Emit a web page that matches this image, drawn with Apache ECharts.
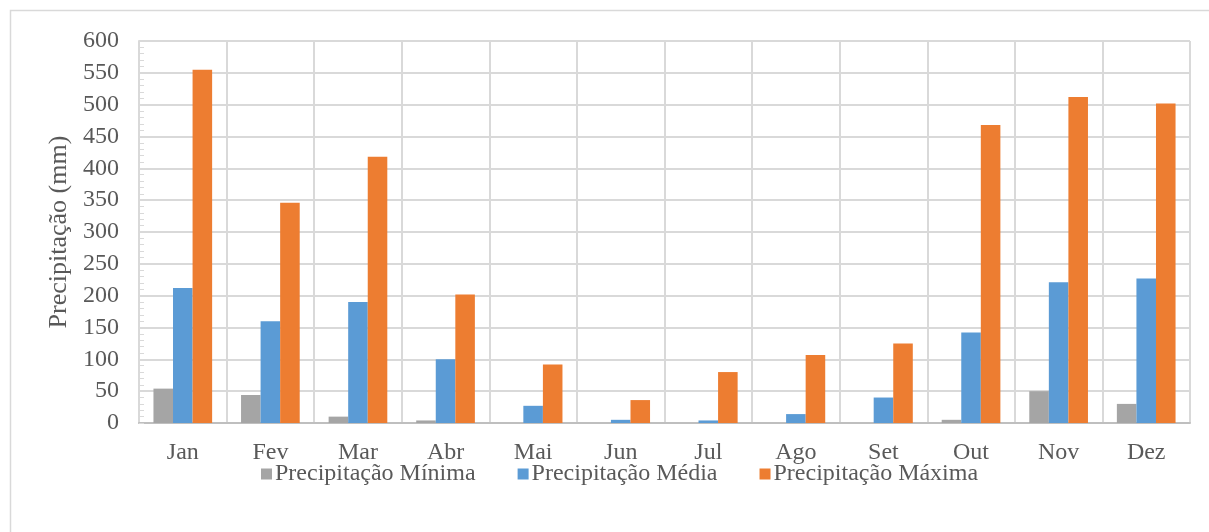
<!DOCTYPE html>
<html>
<head>
<meta charset="utf-8">
<script src="https://cdn.jsdelivr.net/npm/echarts@6/dist/echarts.min.js"></script>
<style>html,body{margin:0;padding:0;background:#fff;}#c{width:1209px;height:532px;}</style>
</head>
<body>
<div id="c"></div>
<script>
const categories = ['Jan','Fev','Mar','Abr','Mai','Jun','Jul','Ago','Set','Out','Nov','Dez'];
const precMinima = [54, 44, 10, 4, 0, 0, 0, 0, 0, 5, 50, 30];
const precMedia = [212, 160, 190, 100, 27, 5, 4, 14, 40, 142, 221, 227];
const precMaxima = [555, 346, 418, 202, 92, 36, 80, 107, 125, 468, 512, 502];
const seriesNames = ['Precipitação Mínima', 'Precipitação Média', 'Precipitação Máxima'];
const yTitle = 'Precipitação (mm)';

const font = '"Liberation Serif", "Times New Roman", serif';
const txt = '#595959';
const chart = echarts.init(document.getElementById('c'));
chart.setOption({
  animation: false,
  textStyle: {fontFamily: font},
  graphic: [{
    type: 'rect', silent: true,
    shape: {x: 10.5, y: 10.5, width: 1240, height: 560},
    style: {fill: 'none', stroke: '#D9D9D9', lineWidth: 1.5}
  }],
  legend: {
    left: 256, top: 457,
    itemWidth: 11, itemHeight: 11, itemGap: 42,
    icon: 'rect',
    textStyle: {fontFamily: font, fontSize: 24, color: txt, padding: [0,0,0,-2]},
    data: seriesNames
  },
  grid: {left: 139, right: 19, top: 41, bottom: 109, containLabel: false},
  xAxis: {
    type: 'category', data: categories,
    axisLine: {show: true, lineStyle: {color: '#BFBFBF', width: 2}},
    axisTick: {show: false},
    axisLabel: {fontFamily: font, fontSize: 24, color: txt, margin: 18},
    splitLine: {show: true, lineStyle: {color: '#D9D9D9', width: 2}}
  },
  yAxis: {
    type: 'value', min: 0, max: 600, interval: 50,
    name: yTitle, nameLocation: 'middle', nameGap: 59,
    nameTextStyle: {fontFamily: font, fontSize: 26, color: txt},
    axisLine: {show: true, lineStyle: {color: '#D9D9D9', width: 2}},
    axisTick: {show: true, inside: true, length: 5, lineStyle: {color: '#D9D9D9'}},
    minorTick: {show: true, splitNumber: 5, length: 5, lineStyle: {color: '#D9D9D9'}},
    axisLabel: {fontFamily: font, fontSize: 24, color: txt, margin: 20},
    splitLine: {show: true, lineStyle: {color: '#D9D9D9', width: 2}}
  },
  series: [
    {name: seriesNames[0], type: 'bar', data: precMinima, itemStyle: {color: '#A5A5A5'}, barGap: '0%', barCategoryGap: '33%'},
    {name: seriesNames[1], type: 'bar', data: precMedia, itemStyle: {color: '#5B9BD5'}, barGap: '0%', barCategoryGap: '33%'},
    {name: seriesNames[2], type: 'bar', data: precMaxima, itemStyle: {color: '#ED7D31'}, barGap: '0%', barCategoryGap: '33%'}
  ]
});
</script>
</body>
</html>
